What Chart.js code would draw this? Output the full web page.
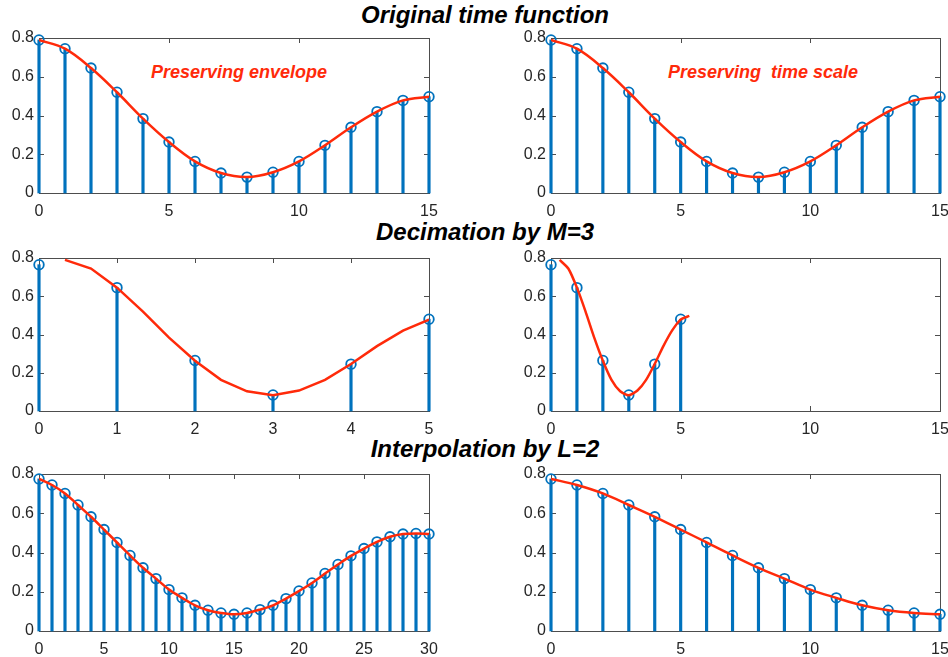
<!DOCTYPE html>
<html>
<head>
<meta charset="utf-8">
<title>Decimation and interpolation</title>
<script src="https://cdn.jsdelivr.net/npm/chart.js@4.4.0/dist/chart.umd.min.js"></script>
<style>
    body { margin: 0; background: #fff; }
    #page { position: relative; width: 948px; height: 657px; overflow: hidden; font-family: "Liberation Sans", Arial, Helvetica, sans-serif; }
    canvas { position: absolute; }
    .title { position: absolute; transform: translateX(-50%); white-space: nowrap; font-size: 24px; line-height: 24px; font-weight: bold; font-style: italic; color: #000; }
    .note { position: absolute; white-space: pre; font-size: 18px; line-height: 18px; font-weight: bold; font-style: italic; color: #ff2a0a; }
</style>
</head>
<body>
<div id="page">
    <div class="title" style="left:485px; top:3px;">Original time function</div>
    <div class="title" style="left:485px; top:220px;">Decimation by M=3</div>
    <div class="title" style="left:485px; top:437px;">Interpolation by L=2</div>
    <div class="note" style="left:151px; top:63px;">Preserving envelope</div>
    <div class="note" style="left:668px; top:63px;">Preserving  time scale</div>

    <canvas id="origLeft" width="440" height="191" style="left:0; top:28px;"></canvas>
    <canvas id="origRight" width="436" height="191" style="left:512px; top:28px;"></canvas>
    <canvas id="decimLeft" width="440" height="189" style="left:0; top:248px;"></canvas>
    <canvas id="decimRight" width="436" height="189" style="left:512px; top:248px;"></canvas>
    <canvas id="interpLeft" width="440" height="193" style="left:0; top:464px;"></canvas>
    <canvas id="interpRight" width="436" height="193" style="left:512px; top:464px;"></canvas>
</div>

<script>
// data
const origN = [0, 1, 2, 3, 4, 5, 6, 7, 8, 9, 10, 11, 12, 13, 14, 15];
const origValues = [0.79, 0.745, 0.645, 0.52, 0.384, 0.263, 0.163, 0.103, 0.082, 0.107, 0.163, 0.246, 0.339, 0.42, 0.478, 0.497];

const decimN = [0, 1, 2, 3, 4, 5];
const decimValues = [0.765, 0.645, 0.264, 0.084, 0.245, 0.48];
// original envelope squeezed onto the decimated time axis
const decimEnvelopeX = [0.333, 0.667, 1, 1.333, 1.667, 2, 2.333, 2.667, 3, 3.333, 3.667, 4, 4.333, 4.667, 5, 5.333];

const interpN = [0, 1, 2, 3, 4, 5, 6, 7, 8, 9, 10, 11, 12, 13, 14, 15, 16, 17, 18, 19, 20, 21, 22, 23, 24, 25, 26, 27, 28, 29, 30];
const interpValues = [0.775, 0.744, 0.701, 0.642, 0.582, 0.517, 0.451, 0.385, 0.322, 0.267, 0.211, 0.169, 0.131, 0.106, 0.092, 0.085,
    0.092, 0.109, 0.131, 0.165, 0.204, 0.245, 0.293, 0.339, 0.383, 0.42, 0.454, 0.48, 0.494, 0.497, 0.494];

const yTicks = [0, 0.2, 0.4, 0.6, 0.8];

const STEM_BLUE = '#0072bd';
const ENV_RED = '#ff2a0a';
const FONT = { family: '"Liberation Sans", Arial, Helvetica, sans-serif', size: 16 };

function toPoints(xs, ys) {
    return xs.map((x, i) => ({ x: x, y: ys[i] }));
}

// matlab style box with inner tick marks
const boxPlugin = {
    id: 'matlabBox',
    beforeDatasetsDraw(chart) {
        const { ctx, chartArea: a, scales } = chart;
        ctx.save();
        ctx.strokeStyle = '#4d4d4d';
        ctx.lineWidth = 1;
        ctx.strokeRect(Math.round(a.left) + 0.5, Math.round(a.top) + 0.5, Math.round(a.right - a.left), Math.round(a.bottom - a.top));
        ctx.beginPath();
        scales.x.ticks.forEach(t => {
            const px = Math.round(scales.x.getPixelForValue(t.value)) + 0.5;
            ctx.moveTo(px, a.top); ctx.lineTo(px, a.top + 5);
            ctx.moveTo(px, a.bottom); ctx.lineTo(px, a.bottom - 5);
        });
        scales.y.ticks.forEach(t => {
            const py = Math.round(scales.y.getPixelForValue(t.value)) + 0.5;
            ctx.moveTo(a.left, py); ctx.lineTo(a.left + 5, py);
            ctx.moveTo(a.right, py); ctx.lineTo(a.right - 5, py);
        });
        ctx.stroke();
        ctx.restore();
    }
};

function makeStemChart(id, stemX, stemY, lineX, lineY, xMax, xStep, tension, padRight) {
    const ctx = document.getElementById(id).getContext('2d');
    const stems = toPoints(stemX, stemY);

    return new Chart(ctx, {
        type: 'scatter',
        data: {
            datasets: [
                {
                    type: 'line',
                    data: toPoints(lineX, lineY),
                    borderColor: ENV_RED,
                    borderWidth: 2.5,
                    pointRadius: 0,
                    tension: tension,
                    fill: false,
                    order: 1
                },
                {
                    type: 'scatter',
                    data: stems,
                    pointRadius: 4.8,
                    pointBorderWidth: 1.8,
                    pointBorderColor: STEM_BLUE,
                    pointBackgroundColor: 'rgba(0,0,0,0)',
                    showLine: false,
                    clip: false,
                    order: 2
                },
                {
                    type: 'bar',
                    data: stems,
                    backgroundColor: STEM_BLUE,
                    barThickness: 2.5,
                    clip: false,
                    order: 3
                }
            ]
        },
        options: {
            responsive: false,
            devicePixelRatio: 1,
            animation: false,
            events: [],
            layout: { padding: { top: 10, right: padRight, left: 0, bottom: 0 } },
            plugins: { legend: { display: false }, tooltip: { enabled: false } },
            scales: {
                x: {
                    type: 'linear',
                    min: 0,
                    max: xMax,
                    offset: false,
                    grid: { display: false, drawTicks: false },
                    border: { display: false },
                    ticks: { stepSize: xStep, padding: 9, color: '#262626', font: FONT, maxRotation: 0 },
                    afterFit(scale) {
                        scale.height = 26;
                        scale.paddingLeft = 0;
                        scale.paddingRight = 0;
                    }
                },
                y: {
                    type: 'linear',
                    min: 0,
                    max: 0.8,
                    grid: { display: false, drawTicks: false },
                    border: { display: false },
                    ticks: { stepSize: 0.2, padding: 5, color: '#262626', font: FONT },
                    afterBuildTicks(scale) { scale.ticks = yTicks.map(v => ({ value: v })); },
                    afterFit(scale) {
                        scale.width = 39;
                        scale.paddingTop = 0;
                        scale.paddingBottom = 0;
                    }
                }
            }
        },
        plugins: [boxPlugin]
    });
}

makeStemChart('origLeft', origN, origValues, origN, origValues, 15, 5, 0.35, 11);
makeStemChart('origRight', origN, origValues, origN, origValues, 15, 5, 0.35, 8);
makeStemChart('decimLeft', decimN, decimValues, decimEnvelopeX, origValues, 5, 1, 0, 11);
makeStemChart('decimRight', decimN, decimValues, decimEnvelopeX, origValues, 15, 5, 0.2, 8);
makeStemChart('interpLeft', interpN, interpValues, interpN, interpValues, 30, 5, 0.35, 11);
makeStemChart('interpRight', interpN.slice(0, 16), interpValues.slice(0, 16), interpN.slice(0, 16), interpValues.slice(0, 16), 15, 5, 0.35, 8);
</script>
</body>
</html>
